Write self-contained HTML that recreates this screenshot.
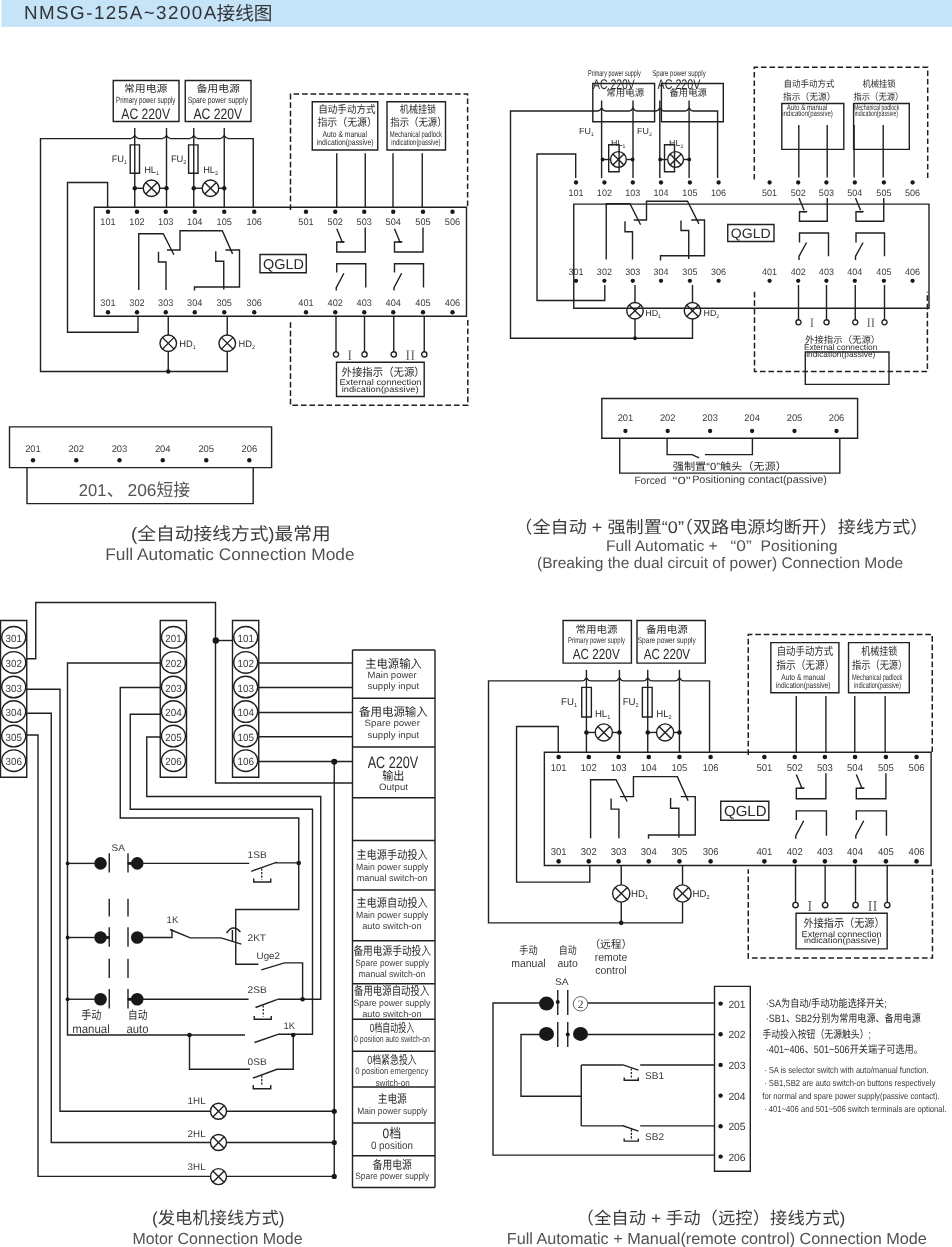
<!DOCTYPE html>
<html lang="zh"><head><meta charset="utf-8"><title>NMSG-125A~3200A接线图</title>
<style>html,body{margin:0;padding:0;background:#fff}body{width:952px;height:1247px;overflow:hidden;font-family:"Liberation Sans",sans-serif}svg{display:block;will-change:transform}text{font-family:"Liberation Sans",sans-serif;fill:#2b2a29;text-rendering:geometricPrecision}.ln{fill:none;stroke:#231f20;stroke-width:1.4;stroke-linecap:butt;stroke-linejoin:miter}.ds{fill:none;stroke:#231f20;stroke-width:1.5;stroke-dasharray:5.7 2.8}.dt{fill:none;stroke:#231f20;stroke-width:1.25;stroke-dasharray:2.1 1.4}.fl{fill:#1a1718}.cj text{font-family:"Liberation Sans","Noto Sans CJK SC",sans-serif;fill:#2b2a29}</style></head><body>
<svg width="952" height="1247" viewBox="0 0 952 1247">
<rect x="1.3" y="0" width="950.7" height="26.8" fill="#c5e4f8"/>
<g class="ln">
<path d="M113.25 80.5H179V121.5H113.25Z"/>
<path d="M185.25 80.5H251V121.5H185.25Z"/>
<path d="M134.75 128 L134.75 207.25"/>
<path d="M166.5 128 L166.5 207.25"/>
<path d="M193.75 128 L193.75 207.25"/>
<path d="M224.25 128 L224.25 207.25"/>
<path d="M253.25 207.25V138.6H228.45Q226.14 138.6 224.25 135.6Q222.36 138.6 220.05 138.6H197.95Q195.64 138.6 193.75 135.6Q191.86 138.6 189.55 138.6H170.7Q168.39 138.6 166.5 135.6Q164.61 138.6 162.3 138.6H138.95Q136.64 138.6 134.75 135.6Q132.86 138.6 130.55 138.6H40.5V371.5H227.25V351.5"/>
<path d="M130.2 144.9H139.5V173.3H130.2Z"/>
<path d="M188.6 144.9H198V173.3H188.6Z"/>
<path d="M143.25 188.25a8.25 8.25 0 1 0 16.5 0a8.25 8.25 0 1 0 -16.5 0"/>
<path d="M145.67 182.42 L157.33 194.08"/>
<path d="M145.67 194.08 L157.33 182.42"/>
<path d="M134.75 188.25 L143.25 188.25"/>
<path d="M159.75 188.25 L166.5 188.25"/>
<path d="M202.25 188.25a8.25 8.25 0 1 0 16.5 0a8.25 8.25 0 1 0 -16.5 0"/>
<path d="M204.67 182.42 L216.33 194.08"/>
<path d="M204.67 194.08 L216.33 182.42"/>
<path d="M193.75 188.25 L202.25 188.25"/>
<path d="M218.75 188.25 L224.25 188.25"/>
<path d="M107.6 207.25 L107.6 182.5 L67.5 182.5 L67.5 332.3 L138 332.3 L138 316.25"/>
<path d="M94.25 207.25H466.5V316.25H94.25Z"/>
<path d="M260 254.5H306.25V272.75H260Z"/>
<path d="M138.75 290 L138.75 233.75 L163.25 233.75 L173.9 254.7"/>
<path d="M167 250 L180 250 L180 230.75 L222.25 230.75 L232.6 253.9"/>
<path d="M158.5 251.75 L158.5 262 L166 262 L166 290"/>
<path d="M225.5 250 L239.5 250 L239.5 287 L194.5 287 L194.5 290.6"/>
<path d="M215.75 251.25 L215.75 261.25 L223.75 261.25 L223.75 289.6"/>
<path d="M336.75 228.75 L341.8 240.9"/>
<path d="M340 241.8 L344.6 241.8"/>
<path d="M344 242 L336.75 242 L336.75 252 L365.25 252 L365.25 227.5"/>
<path d="M394.5 228.75 L399.55 240.9"/>
<path d="M397.75 241.8 L402.35 241.8"/>
<path d="M401.75 242 L394.5 242 L394.5 252 L423 252 L423 227.5"/>
<path d="M336.75 272.6 L336.75 263.75 L365.75 263.75 L365.75 287.6"/>
<path d="M343.9 273.25 L336.25 287.6 L336.25 290.6"/>
<path d="M394.5 272.6 L394.5 263.75 L423.5 263.75 L423.5 287.6"/>
<path d="M401.65 273.25 L394 287.6 L394 290.6"/>
<path d="M168.25 316.25 L168.25 335"/>
<path d="M159.95 343.25a8.3 8.3 0 1 0 16.6 0a8.3 8.3 0 1 0 -16.6 0"/>
<path d="M162.38 337.38 L174.12 349.12"/>
<path d="M162.38 349.12 L174.12 337.38"/>
<path d="M227.25 316.25 L227.25 335"/>
<path d="M218.95 343.25a8.3 8.3 0 1 0 16.6 0a8.3 8.3 0 1 0 -16.6 0"/>
<path d="M221.38 337.38 L233.12 349.12"/>
<path d="M221.38 349.12 L233.12 337.38"/>
<path d="M168.25 351.5 L168.25 371.5"/>
<path d="M312.25 101.75H377.75V150H312.25Z"/>
<path d="M387 101.75H445.5V150H387Z"/>
<path d="M336.75 153.25 L336.75 207.25"/>
<path d="M365.25 153.25 L365.25 207.25"/>
<path d="M393 153.25 L393 207.25"/>
<path d="M422.25 153.25 L422.25 207.25"/>
<path d="M336 316.25 L336 351.8"/>
<path d="M333.4 354.4a2.6 2.6 0 1 0 5.2 0a2.6 2.6 0 1 0 -5.2 0"/>
<path d="M364.5 316.25 L364.5 351.8"/>
<path d="M361.9 354.4a2.6 2.6 0 1 0 5.2 0a2.6 2.6 0 1 0 -5.2 0"/>
<path d="M393.75 316.25 L393.75 351.8"/>
<path d="M391.15 354.4a2.6 2.6 0 1 0 5.2 0a2.6 2.6 0 1 0 -5.2 0"/>
<path d="M424.25 316.25 L424.25 351.8"/>
<path d="M421.65 354.4a2.6 2.6 0 1 0 5.2 0a2.6 2.6 0 1 0 -5.2 0"/>
<path d="M336.5 362.2H424.2V396.5H336.5Z"/>
<path d="M9.5 426.9H271.6V467.6H9.5Z"/>
<path d="M27 467.6 L27 503.6 L253.2 503.6 L253.2 467.6"/>
<path d="M563.09 620.51H631.41V663.11H563.09Z"/>
<path d="M637 620.51H705.31V663.11H637Z"/>
<path d="M586.43 669.86 L586.43 752.2"/>
<path d="M619.42 669.86 L619.42 752.2"/>
<path d="M647.73 669.86 L647.73 752.2"/>
<path d="M679.42 669.86 L679.42 752.2"/>
<path d="M709.55 752.2V680.87H683.78Q681.38 680.87 679.42 677.76Q677.46 680.87 675.06 680.87H652.09Q649.69 680.87 647.73 677.76Q645.77 680.87 643.37 680.87H623.78Q621.38 680.87 619.42 677.76Q617.45 680.87 615.05 680.87H590.79Q588.39 680.87 586.43 677.76Q584.47 680.87 582.07 680.87H488.5V922.86H682.54V902.08"/>
<path d="M581.7 687.42H591.36V716.93H581.7Z"/>
<path d="M642.38 687.42H652.15V716.93H642.38Z"/>
<path d="M595.26 732.46a8.57 8.57 0 1 0 17.14 0a8.57 8.57 0 1 0 -17.14 0"/>
<path d="M597.77 726.4 L609.89 738.52"/>
<path d="M597.77 738.52 L609.89 726.4"/>
<path d="M586.43 732.46 L595.26 732.46"/>
<path d="M612.4 732.46 L619.42 732.46"/>
<path d="M656.56 732.46a8.57 8.57 0 1 0 17.14 0a8.57 8.57 0 1 0 -17.14 0"/>
<path d="M659.07 726.4 L671.19 738.52"/>
<path d="M659.07 738.52 L671.19 726.4"/>
<path d="M647.73 732.46 L656.56 732.46"/>
<path d="M673.71 732.46 L679.42 732.46"/>
<path d="M558.22 752.2 L558.22 726.48 L516.56 726.48 L516.56 882.13 L589.81 882.13 L589.81 865.45"/>
<path d="M544.35 752.2H931.12V865.45H544.35Z"/>
<path d="M720.76 801.29H768.82V820.25H720.76Z"/>
<path d="M590.59 838.18 L590.59 779.73 L616.04 779.73 L627.11 801.5"/>
<path d="M619.94 796.62 L633.44 796.62 L633.44 776.62 L677.34 776.62 L688.1 800.67"/>
<path d="M611.11 798.44 L611.11 809.09 L618.9 809.09 L618.9 838.18"/>
<path d="M680.72 796.62 L695.26 796.62 L695.26 835.06 L648.51 835.06 L648.51 838.8"/>
<path d="M670.59 797.92 L670.59 808.31 L678.9 808.31 L678.9 837.76"/>
<path d="M796.31 774.54 L801.55 787.16"/>
<path d="M799.68 788.1 L804.46 788.1"/>
<path d="M803.84 788.31 L796.31 788.31 L796.31 798.7 L825.92 798.7 L825.92 773.24"/>
<path d="M856.31 774.54 L861.56 787.16"/>
<path d="M859.69 788.1 L864.47 788.1"/>
<path d="M863.84 788.31 L856.31 788.31 L856.31 798.7 L885.92 798.7 L885.92 773.24"/>
<path d="M796.31 820.1 L796.31 810.9 L826.44 810.9 L826.44 835.68"/>
<path d="M803.74 820.77 L795.79 835.68 L795.79 838.8"/>
<path d="M856.31 820.1 L856.31 810.9 L886.44 810.9 L886.44 835.68"/>
<path d="M863.74 820.77 L855.79 835.68 L855.79 838.8"/>
<path d="M621.24 865.45 L621.24 884.93"/>
<path d="M612.61 893.5a8.62 8.62 0 1 0 17.25 0a8.62 8.62 0 1 0 -17.25 0"/>
<path d="M615.14 887.41 L627.33 899.6"/>
<path d="M615.14 899.6 L627.33 887.41"/>
<path d="M682.54 865.45 L682.54 884.93"/>
<path d="M673.91 893.5a8.62 8.62 0 1 0 17.25 0a8.62 8.62 0 1 0 -17.25 0"/>
<path d="M676.44 887.41 L688.63 899.6"/>
<path d="M676.44 899.6 L688.63 887.41"/>
<path d="M621.24 902.08 L621.24 922.86"/>
<path d="M770.85 642.59H838.91V692.72H770.85Z"/>
<path d="M848.52 642.59H909.3V692.72H848.52Z"/>
<path d="M796.31 696.09 L796.31 752.2"/>
<path d="M825.92 696.09 L825.92 752.2"/>
<path d="M854.75 696.09 L854.75 752.2"/>
<path d="M885.14 696.09 L885.14 752.2"/>
<path d="M795.53 865.45 L795.53 902.39"/>
<path d="M792.83 905.09a2.7 2.7 0 1 0 5.4 0a2.7 2.7 0 1 0 -5.4 0"/>
<path d="M825.14 865.45 L825.14 902.39"/>
<path d="M822.44 905.09a2.7 2.7 0 1 0 5.4 0a2.7 2.7 0 1 0 -5.4 0"/>
<path d="M855.53 865.45 L855.53 902.39"/>
<path d="M852.83 905.09a2.7 2.7 0 1 0 5.4 0a2.7 2.7 0 1 0 -5.4 0"/>
<path d="M887.22 865.45 L887.22 902.39"/>
<path d="M884.52 905.09a2.7 2.7 0 1 0 5.4 0a2.7 2.7 0 1 0 -5.4 0"/>
<path d="M796.05 913.19H887.17V948.83H796.05Z"/>
<path d="M539.5 1003 L493 1003 L493 1155.1 L714.5 1155.1"/>
<path d="M557.75 990 L557.75 1015"/>
<path d="M567.75 990 L567.75 1015"/>
<path d="M588 1003 L714.5 1003"/>
<path d="M539.5 1034.5 L521 1034.5 L521 1096.25 L581.25 1096.25"/>
<path d="M557.75 1022 L557.75 1047"/>
<path d="M567.75 1022 L567.75 1047"/>
<path d="M587.5 1034.5 L714.5 1034.5"/>
<path d="M581.25 1065 L581.25 1125.9"/>
<path d="M581.25 1065 L622.4 1065"/>
<path d="M622.2 1064.6 L638.4 1070.2"/>
<path d="M640.2 1065 L714.5 1065"/>
<path d="M624.2 1077.6 L624.2 1080.2 L638.3 1080.2 L638.3 1077.6"/>
<path d="M581.25 1125.9 L622.4 1125.9"/>
<path d="M622.2 1125.5 L638.4 1131.1"/>
<path d="M640.2 1125.9 L714.5 1125.9"/>
<path d="M624.2 1138.5 L624.2 1141.1 L638.3 1141.1 L638.3 1138.5"/>
<path d="M714.5 986.4H750.3V1171.3H714.5Z"/>
<path d="M0.5 620.5H26.75V777.3H0.5Z"/>
<path d="M1.72 637.3a12 10.8 0 1 0 24 0a12 10.8 0 1 0 -24 0"/>
<path d="M1.72 662.4a12 10.8 0 1 0 24 0a12 10.8 0 1 0 -24 0"/>
<path d="M1.72 687a12 10.8 0 1 0 24 0a12 10.8 0 1 0 -24 0"/>
<path d="M1.72 711.6a12 10.8 0 1 0 24 0a12 10.8 0 1 0 -24 0"/>
<path d="M1.72 736.1a12 10.8 0 1 0 24 0a12 10.8 0 1 0 -24 0"/>
<path d="M1.72 760.7a12 10.8 0 1 0 24 0a12 10.8 0 1 0 -24 0"/>
<path d="M160.25 620.5H186.5V777.3H160.25Z"/>
<path d="M161.47 637.3a12 10.8 0 1 0 24 0a12 10.8 0 1 0 -24 0"/>
<path d="M161.47 662.4a12 10.8 0 1 0 24 0a12 10.8 0 1 0 -24 0"/>
<path d="M161.47 687a12 10.8 0 1 0 24 0a12 10.8 0 1 0 -24 0"/>
<path d="M161.47 711.6a12 10.8 0 1 0 24 0a12 10.8 0 1 0 -24 0"/>
<path d="M161.47 736.1a12 10.8 0 1 0 24 0a12 10.8 0 1 0 -24 0"/>
<path d="M161.47 760.7a12 10.8 0 1 0 24 0a12 10.8 0 1 0 -24 0"/>
<path d="M232.5 620.5H258.75V777.3H232.5Z"/>
<path d="M233.72 637.3a12 10.8 0 1 0 24 0a12 10.8 0 1 0 -24 0"/>
<path d="M233.72 662.4a12 10.8 0 1 0 24 0a12 10.8 0 1 0 -24 0"/>
<path d="M233.72 687a12 10.8 0 1 0 24 0a12 10.8 0 1 0 -24 0"/>
<path d="M233.72 711.6a12 10.8 0 1 0 24 0a12 10.8 0 1 0 -24 0"/>
<path d="M233.72 736.1a12 10.8 0 1 0 24 0a12 10.8 0 1 0 -24 0"/>
<path d="M233.72 760.7a12 10.8 0 1 0 24 0a12 10.8 0 1 0 -24 0"/>
<path d="M26.75 658.75 L35.75 658.75 L35.75 602.5 L215.5 602.5 L215.5 783 L352.5 783"/>
<path d="M215.5 640.5 L232.5 640.5"/>
<path d="M26.75 689.25 L60 689.25 L60 1111.25 L210.5 1111.25"/>
<path d="M26.75 713.25 L51.25 713.25 L51.25 1142.5 L210.5 1142.5"/>
<path d="M26.75 735 L38 735 L38 1176.4 L210.5 1176.4"/>
<path d="M160.25 663 L67.5 663 L67.5 1035 L245 1035"/>
<path d="M160.25 687.5 L120.25 687.5 L120.25 818 L298.75 818 L298.75 909.5 L235.75 909.5 L235.75 964.25 L258.4 964.25"/>
<path d="M160.25 714.25 L130.25 714.25 L130.25 809.25 L312.5 809.25 L312.5 1034.25 L278 1034.25"/>
<path d="M160.25 737 L146.75 737 L146.75 796.5 L320.75 796.5 L320.75 999.25 L277.5 999.25"/>
<path d="M258.75 663 L352.5 663"/>
<path d="M258.75 687.5 L352.5 687.5"/>
<path d="M258.75 712.5 L352.5 712.5"/>
<path d="M258.75 736.75 L352.5 736.75"/>
<path d="M258.75 761.5 L352.5 761.5"/>
<path d="M334.25 761.5 L334.25 1176.4"/>
<path d="M352.5 650 L352.5 1187.5"/>
<path d="M435 650 L435 1187.5"/>
<path d="M352.5 650 L435 650"/>
<path d="M352.5 698.25 L435 698.25"/>
<path d="M352.5 747 L435 747"/>
<path d="M352.5 797.75 L435 797.75"/>
<path d="M352.5 840.5 L435 840.5"/>
<path d="M352.5 890 L435 890"/>
<path d="M352.5 940.75 L435 940.75"/>
<path d="M352.5 983.75 L435 983.75"/>
<path d="M352.5 1019.25 L435 1019.25"/>
<path d="M352.5 1051.25 L435 1051.25"/>
<path d="M352.5 1087 L435 1087"/>
<path d="M352.5 1123 L435 1123"/>
<path d="M352.5 1155.75 L435 1155.75"/>
<path d="M352.5 1187.5 L435 1187.5"/>
<path d="M67.5 863.4 L94.5 863.4"/>
<path d="M109.25 853.2 L109.25 872.6"/>
<path d="M128 853.2 L128 872.6"/>
<path d="M67.5 937.5 L94.5 937.5"/>
<path d="M109.25 927.3 L109.25 946.7"/>
<path d="M128 927.3 L128 946.7"/>
<path d="M67.5 999.25 L94.5 999.25"/>
<path d="M109.25 989.05 L109.25 1008.45"/>
<path d="M128 989.05 L128 1008.45"/>
<path d="M109.25 898.75 L109.25 916.4"/>
<path d="M109.25 958.75 L109.25 978"/>
<path d="M128 898.75 L128 916.4"/>
<path d="M128 958.75 L128 978"/>
<path d="M143 863.4 L249.25 863.4"/>
<path d="M251.25 871.3 L276.3 862.4 L276.3 862.9 L298.75 862.9"/>
<path d="M253.75 878.6 L253.75 882 L270.75 882 L270.75 878.6"/>
<path d="M143 937.5 L172 937.5 L172 929.3"/>
<path d="M170 929.5 L190.3 937.9 L221 937.9 L241.4 944.2"/>
<path d="M232.4 930 L232.4 941.2"/>
<path d="M226.6 933.2 Q229.5 928 233.6 928 Q237.6 928 240.4 932.2"/>
<path d="M261.3 969.8 L284.5 962.9 L302.6 962.9 L302.6 999.25"/>
<path d="M143 999.25 L248.6 999.25"/>
<path d="M255.5 1007.5 L277.5 999.3"/>
<path d="M254.25 1016 L254.25 1019.25 L271.25 1019.25 L271.25 1016"/>
<path d="M254.5 1042.5 L278 1034.3"/>
<path d="M189.5 1035 L189.5 1069.25 L250 1069.25"/>
<path d="M253 1078 L277 1069.25 L293.25 1069.25 L293.25 1035"/>
<path d="M253.25 1085 L253.25 1088.75 L270.75 1088.75 L270.75 1085"/>
<path d="M210.5 1111.25a8 8 0 1 0 16 0a8 8 0 1 0 -16 0"/>
<path d="M212.84 1105.59 L224.16 1116.91"/>
<path d="M212.84 1116.91 L224.16 1105.59"/>
<path d="M226.5 1111.25 L334.25 1111.25"/>
<path d="M210.5 1142.5a8 8 0 1 0 16 0a8 8 0 1 0 -16 0"/>
<path d="M212.84 1136.84 L224.16 1148.16"/>
<path d="M212.84 1148.16 L224.16 1136.84"/>
<path d="M226.5 1142.5 L334.25 1142.5"/>
<path d="M210.5 1176.6a8 8 0 1 0 16 0a8 8 0 1 0 -16 0"/>
<path d="M212.84 1170.94 L224.16 1182.26"/>
<path d="M212.84 1182.26 L224.16 1170.94"/>
<path d="M226.5 1176.4 L334.25 1176.4"/>
<path d="M592.8 83.5H654.6V121.7H592.8Z"/>
<path d="M661.4 83.5H723.3V121.7H661.4Z"/>
<path d="M601.6 100.5 L601.6 178"/>
<path d="M633 100.5 L633 178"/>
<path d="M659.8 100.5 L659.8 178"/>
<path d="M689.1 100.5 L689.1 178"/>
<path d="M717.6 178V111H693.1Q690.9 111 689.1 108.1Q687.3 111 685.1 111H663.8Q661.6 111 659.8 108.1Q658 111 655.8 111H637Q634.8 111 633 108.1Q631.2 111 629 111H605.6Q603.4 111 601.6 108.1Q599.8 111 597.6 111H510.5V338.25H692.5V319"/>
<path d="M608.7 144.8H619.1V171.8H608.7Z"/>
<path d="M664.5 144.8H674.5V171.8H664.5Z"/>
<path d="M610.5 159.5a7.9 7.9 0 1 0 15.8 0a7.9 7.9 0 1 0 -15.8 0"/>
<path d="M612.81 153.91 L623.99 165.09"/>
<path d="M612.81 165.09 L623.99 153.91"/>
<path d="M602.2 159.5 L610.5 159.5"/>
<path d="M626.3 159.5 L632.6 159.5"/>
<path d="M667.7 159.5a7.9 7.9 0 1 0 15.8 0a7.9 7.9 0 1 0 -15.8 0"/>
<path d="M670.01 153.91 L681.19 165.09"/>
<path d="M670.01 165.09 L681.19 153.91"/>
<path d="M659.8 159.5 L667.7 159.5"/>
<path d="M683.5 159.5 L689.2 159.5"/>
<path d="M575.7 178 L575.7 154 L537 154 L537 300.5 L604.8 300.5 L604.8 285"/>
<path d="M573.75 204.1H929V308.25H573.75Z"/>
<path d="M727.75 224.5H774V241.5H727.75Z"/>
<path d="M606.25 259.5 L606.25 203.75 L630 203.75 L640.6 224.7"/>
<path d="M633.75 220 L646.5 220 L646.5 201.3 L687.5 201.3 L698.9 223.9"/>
<path d="M625 221.25 L625 231.75 L632.5 231.75 L632.5 259.5"/>
<path d="M691.25 220 L704.5 220 L704.5 255.75 L660.5 255.75 L660.5 260.5"/>
<path d="M681 220.5 L681 230.5 L688.75 230.5 L688.75 259"/>
<path d="M799 198 L804.1 210.2"/>
<path d="M802.5 211.6 L807.2 211.6"/>
<path d="M806.5 211.8 L799.5 211.8 L799.5 221.25 L827.25 221.25 L827.25 198"/>
<path d="M799.5 242.6 L799.5 233 L828.5 233 L828.5 256.3"/>
<path d="M806.6 242.5 L799 256.3 L799 260"/>
<path d="M855.5 198 L860.6 210.2"/>
<path d="M859 211.6 L863.7 211.6"/>
<path d="M863 211.8 L856 211.8 L856 221.25 L883.75 221.25 L883.75 198"/>
<path d="M856 242.6 L856 233 L884.5 233 L884.5 256.3"/>
<path d="M863.1 242.5 L855.5 256.3 L855.5 260"/>
<path d="M635 285 L635 302.5"/>
<path d="M626.75 310.75a8.25 8.25 0 1 0 16.5 0a8.25 8.25 0 1 0 -16.5 0"/>
<path d="M629.17 304.92 L640.83 316.58"/>
<path d="M629.17 316.58 L640.83 304.92"/>
<path d="M692.5 285 L692.5 302.5"/>
<path d="M684.25 310.75a8.25 8.25 0 1 0 16.5 0a8.25 8.25 0 1 0 -16.5 0"/>
<path d="M686.67 304.92 L698.33 316.58"/>
<path d="M686.67 316.58 L698.33 304.92"/>
<path d="M635 319 L635 338.25"/>
<path d="M781.8 103.5H843.8V149.4H781.8Z"/>
<path d="M853.6 103.5H909.3V149.4H853.6Z"/>
<path d="M798.8 125 L798.8 177.6"/>
<path d="M827.2 125 L827.2 177.6"/>
<path d="M854.1 125 L854.1 177.6"/>
<path d="M883.2 125 L883.2 177.6"/>
<path d="M798.5 285 L798.5 319.7"/>
<path d="M795.95 322.3a2.55 2.55 0 1 0 5.1 0a2.55 2.55 0 1 0 -5.1 0"/>
<path d="M826.5 285 L826.5 319.7"/>
<path d="M823.95 322.3a2.55 2.55 0 1 0 5.1 0a2.55 2.55 0 1 0 -5.1 0"/>
<path d="M855.25 285 L855.25 319.7"/>
<path d="M852.7 322.3a2.55 2.55 0 1 0 5.1 0a2.55 2.55 0 1 0 -5.1 0"/>
<path d="M884.5 285 L884.5 319.7"/>
<path d="M881.95 322.3a2.55 2.55 0 1 0 5.1 0a2.55 2.55 0 1 0 -5.1 0"/>
<path d="M805.3 352H889V384.4H805.3Z"/>
<path d="M601.8 398.5H857.6V438.2H601.8Z"/>
<path d="M619.7 438.2 L619.7 473.1 L839.8 473.1 L839.8 438.2"/>
<path d="M667.1 438.2 L667.1 454.6 L692 454.6 L699.2 457.8"/>
<path d="M705 454.6 L752.4 454.6 L752.4 438.2"/>
</g>
<g class="ds">
<path d="M290.5 210 L290.5 94 L467.6 94 L467.6 207"/>
<path d="M467.8 320 L467.8 405.3 L290.5 405.3 L290.5 320"/>
<path d="M748.25 755.06 L748.25 634.53 L932.26 634.53 L932.26 751.94"/>
<path d="M932.47 869.35 L932.47 957.97 L748.25 957.97 L748.25 869.35"/>
<path d="M754.3 179.6 L754.3 67.2 L927.7 67.2 L927.7 179.6"/>
<path d="M754.5 291.8 L754.5 371.4 L927.4 371.4 L927.4 291.8"/>
</g>
<g class="dt">
<path d="M631.4 1068.4V1079"/>
<path d="M631.4 1129.3V1139.9"/>
<path d="M261.75 868.6V879.6"/>
<path d="M263.25 1005.4V1016.4"/>
<path d="M261.75 1075.6V1086"/>
</g>
<g class="fl"><circle cx="134.75" cy="188.25" r="2.2"/>
<circle cx="166.5" cy="188.25" r="2.2"/>
<circle cx="193.75" cy="188.25" r="2.2"/>
<circle cx="224.25" cy="188.25" r="2.2"/>
<circle cx="108" cy="211.8" r="2.2"/>
<circle cx="108" cy="312.3" r="2.2"/>
<circle cx="137" cy="211.8" r="2.2"/>
<circle cx="137" cy="312.3" r="2.2"/>
<circle cx="165.75" cy="211.8" r="2.2"/>
<circle cx="165.75" cy="312.3" r="2.2"/>
<circle cx="194.75" cy="211.8" r="2.2"/>
<circle cx="194.75" cy="312.3" r="2.2"/>
<circle cx="224.25" cy="211.8" r="2.2"/>
<circle cx="224.25" cy="312.3" r="2.2"/>
<circle cx="254.25" cy="211.8" r="2.2"/>
<circle cx="254.25" cy="312.3" r="2.2"/>
<circle cx="306" cy="211.8" r="2.2"/>
<circle cx="306" cy="312.3" r="2.2"/>
<circle cx="335.25" cy="211.8" r="2.2"/>
<circle cx="335.25" cy="312.3" r="2.2"/>
<circle cx="364.25" cy="211.8" r="2.2"/>
<circle cx="364.25" cy="312.3" r="2.2"/>
<circle cx="393.25" cy="211.8" r="2.2"/>
<circle cx="393.25" cy="312.3" r="2.2"/>
<circle cx="423" cy="211.8" r="2.2"/>
<circle cx="423" cy="312.3" r="2.2"/>
<circle cx="452.5" cy="211.8" r="2.2"/>
<circle cx="452.5" cy="312.3" r="2.2"/>
<circle cx="168.25" cy="371.5" r="2.2"/>
<circle cx="33" cy="460.2" r="2.2"/>
<circle cx="76.25" cy="460.2" r="2.2"/>
<circle cx="119.5" cy="460.2" r="2.2"/>
<circle cx="162.75" cy="460.2" r="2.2"/>
<circle cx="206.25" cy="460.2" r="2.2"/>
<circle cx="249.3" cy="460.2" r="2.2"/>
<circle cx="586.43" cy="732.46" r="2.29"/>
<circle cx="619.42" cy="732.46" r="2.29"/>
<circle cx="647.73" cy="732.46" r="2.29"/>
<circle cx="679.42" cy="732.46" r="2.29"/>
<circle cx="558.64" cy="756.93" r="2.29"/>
<circle cx="558.64" cy="861.35" r="2.29"/>
<circle cx="588.77" cy="756.93" r="2.29"/>
<circle cx="588.77" cy="861.35" r="2.29"/>
<circle cx="618.64" cy="756.93" r="2.29"/>
<circle cx="618.64" cy="861.35" r="2.29"/>
<circle cx="648.77" cy="756.93" r="2.29"/>
<circle cx="648.77" cy="861.35" r="2.29"/>
<circle cx="679.42" cy="756.93" r="2.29"/>
<circle cx="679.42" cy="861.35" r="2.29"/>
<circle cx="710.59" cy="756.93" r="2.29"/>
<circle cx="710.59" cy="861.35" r="2.29"/>
<circle cx="764.36" cy="756.93" r="2.29"/>
<circle cx="764.36" cy="861.35" r="2.29"/>
<circle cx="794.75" cy="756.93" r="2.29"/>
<circle cx="794.75" cy="861.35" r="2.29"/>
<circle cx="824.88" cy="756.93" r="2.29"/>
<circle cx="824.88" cy="861.35" r="2.29"/>
<circle cx="855.01" cy="756.93" r="2.29"/>
<circle cx="855.01" cy="861.35" r="2.29"/>
<circle cx="885.92" cy="756.93" r="2.29"/>
<circle cx="885.92" cy="861.35" r="2.29"/>
<circle cx="916.57" cy="756.93" r="2.29"/>
<circle cx="916.57" cy="861.35" r="2.29"/>
<circle cx="621.24" cy="922.86" r="2.29"/>
<ellipse cx="546.5" cy="1003.6" rx="7.5" ry="7"/>
<circle cx="557.75" cy="1002" r="2"/>
<ellipse cx="546.5" cy="1033.9" rx="7.5" ry="7"/>
<circle cx="567.75" cy="1034.5" r="2"/>
<ellipse cx="580.5" cy="1033.9" rx="7.5" ry="7"/>
<circle cx="720.6" cy="1003.6" r="2.2"/>
<circle cx="720.6" cy="1034.3" r="2.2"/>
<circle cx="720.6" cy="1064.9" r="2.2"/>
<circle cx="720.6" cy="1095.6" r="2.2"/>
<circle cx="720.6" cy="1126.2" r="2.2"/>
<circle cx="720.6" cy="1156.6" r="2.2"/>
<circle cx="215.8" cy="640.5" r="3.2"/>
<circle cx="334.25" cy="761.7" r="3"/>
<circle cx="67.6" cy="863.4" r="1.9"/>
<circle cx="100.5" cy="863.4" r="6.3"/>
<circle cx="137.25" cy="863.4" r="6.3"/>
<circle cx="67.6" cy="937.5" r="1.9"/>
<circle cx="100.5" cy="937.5" r="6.3"/>
<circle cx="137.25" cy="937.5" r="6.3"/>
<circle cx="67.6" cy="999.25" r="1.9"/>
<circle cx="100.5" cy="999.25" r="6.3"/>
<circle cx="137.25" cy="999.25" r="6.3"/>
<circle cx="298.75" cy="863" r="2.3"/>
<circle cx="302.6" cy="999.25" r="2.3"/>
<circle cx="189.5" cy="1035" r="2.3"/>
<circle cx="293.25" cy="1035" r="2.3"/>
<circle cx="334.25" cy="1111.25" r="2.6"/>
<circle cx="334.25" cy="1142.5" r="2.6"/>
<circle cx="334.25" cy="1176.4" r="2.6"/>
<circle cx="602.6" cy="159.5" r="1.9"/>
<circle cx="632.6" cy="159.5" r="1.9"/>
<circle cx="660.2" cy="159.5" r="1.9"/>
<circle cx="689.2" cy="159.5" r="1.9"/>
<circle cx="576" cy="182.5" r="2.15"/>
<circle cx="576" cy="280.8" r="2.15"/>
<circle cx="604.4" cy="182.5" r="2.15"/>
<circle cx="604.4" cy="280.8" r="2.15"/>
<circle cx="632.8" cy="182.5" r="2.15"/>
<circle cx="632.8" cy="280.8" r="2.15"/>
<circle cx="661" cy="182.5" r="2.15"/>
<circle cx="661" cy="280.8" r="2.15"/>
<circle cx="689.9" cy="182.5" r="2.15"/>
<circle cx="689.9" cy="280.8" r="2.15"/>
<circle cx="718.6" cy="182.5" r="2.15"/>
<circle cx="718.6" cy="280.8" r="2.15"/>
<circle cx="769.6" cy="182.5" r="2.15"/>
<circle cx="769.6" cy="280.8" r="2.15"/>
<circle cx="798.2" cy="182.5" r="2.15"/>
<circle cx="798.2" cy="280.8" r="2.15"/>
<circle cx="826.4" cy="182.5" r="2.15"/>
<circle cx="826.4" cy="280.8" r="2.15"/>
<circle cx="854.8" cy="182.5" r="2.15"/>
<circle cx="854.8" cy="280.8" r="2.15"/>
<circle cx="883.9" cy="182.5" r="2.15"/>
<circle cx="883.9" cy="280.8" r="2.15"/>
<circle cx="912.6" cy="182.5" r="2.15"/>
<circle cx="912.6" cy="280.8" r="2.15"/>
<circle cx="635" cy="338.25" r="1.9"/>
<circle cx="625.4" cy="431" r="2.15"/>
<circle cx="667.7" cy="431" r="2.15"/>
<circle cx="710.1" cy="431" r="2.15"/>
<circle cx="752.1" cy="431" r="2.15"/>
<circle cx="794.5" cy="431" r="2.15"/>
<circle cx="836.5" cy="431" r="2.15"/></g>
<circle cx="580.5" cy="1003.8" r="7.2" fill="none" stroke="#3a3a3a" stroke-width="0.8"/>
<g fill="#1a1718"><rect x="127.6" y="862" width="4.5" height="2.8"/><rect x="105.5" y="936.1" width="4.2" height="2.8"/><rect x="127.6" y="997.9" width="4.5" height="2.8"/></g>
<g><text x="23.94" y="19.23" font-size="18.8" textLength="192.32" lengthAdjust="spacing" style="fill:#333335;">NMSG-125A~3200A</text>
<text x="116.03" y="102.7" font-size="9" textLength="59.34" lengthAdjust="spacingAndGlyphs">Primary power supply</text>
<text x="121.27" y="118.8" font-size="15.1" textLength="48.76" lengthAdjust="spacingAndGlyphs">AC 220V</text>
<text x="187.79" y="102.7" font-size="9" textLength="60.01" lengthAdjust="spacingAndGlyphs">Spare power supply</text>
<text x="193.47" y="118.8" font-size="15.1" textLength="48.76" lengthAdjust="spacingAndGlyphs">AC 220V</text>
<text x="111.64" y="162.13" font-size="9.3">FU<tspan font-size="5.39" dy="2.05">1</tspan></text>
<text x="170.94" y="162.13" font-size="9.3">FU<tspan font-size="5.39" dy="2.05">2</tspan></text>
<text x="144.14" y="173.43" font-size="9.3">HL<tspan font-size="5.39" dy="2.05">1</tspan></text>
<text x="203.14" y="173.43" font-size="9.3">HL<tspan font-size="5.39" dy="2.05">2</tspan></text>
<text x="100.35" y="225.3" font-size="9.5" textLength="15.3" lengthAdjust="spacingAndGlyphs" style="fill:#3a3a3a;">101</text>
<text x="100.35" y="305.8" font-size="9.5" textLength="15.3" lengthAdjust="spacingAndGlyphs" style="fill:#3a3a3a;">301</text>
<text x="129.35" y="225.3" font-size="9.5" textLength="15.3" lengthAdjust="spacingAndGlyphs" style="fill:#3a3a3a;">102</text>
<text x="129.35" y="305.8" font-size="9.5" textLength="15.3" lengthAdjust="spacingAndGlyphs" style="fill:#3a3a3a;">302</text>
<text x="158.1" y="225.3" font-size="9.5" textLength="15.3" lengthAdjust="spacingAndGlyphs" style="fill:#3a3a3a;">103</text>
<text x="158.1" y="305.8" font-size="9.5" textLength="15.3" lengthAdjust="spacingAndGlyphs" style="fill:#3a3a3a;">303</text>
<text x="187.1" y="225.3" font-size="9.5" textLength="15.3" lengthAdjust="spacingAndGlyphs" style="fill:#3a3a3a;">104</text>
<text x="187.1" y="305.8" font-size="9.5" textLength="15.3" lengthAdjust="spacingAndGlyphs" style="fill:#3a3a3a;">304</text>
<text x="216.6" y="225.3" font-size="9.5" textLength="15.3" lengthAdjust="spacingAndGlyphs" style="fill:#3a3a3a;">105</text>
<text x="216.6" y="305.8" font-size="9.5" textLength="15.3" lengthAdjust="spacingAndGlyphs" style="fill:#3a3a3a;">305</text>
<text x="246.6" y="225.3" font-size="9.5" textLength="15.3" lengthAdjust="spacingAndGlyphs" style="fill:#3a3a3a;">106</text>
<text x="246.6" y="305.8" font-size="9.5" textLength="15.3" lengthAdjust="spacingAndGlyphs" style="fill:#3a3a3a;">306</text>
<text x="298.35" y="225.3" font-size="9.5" textLength="15.3" lengthAdjust="spacingAndGlyphs" style="fill:#3a3a3a;">501</text>
<text x="298.35" y="305.8" font-size="9.5" textLength="15.3" lengthAdjust="spacingAndGlyphs" style="fill:#3a3a3a;">401</text>
<text x="327.6" y="225.3" font-size="9.5" textLength="15.3" lengthAdjust="spacingAndGlyphs" style="fill:#3a3a3a;">502</text>
<text x="327.6" y="305.8" font-size="9.5" textLength="15.3" lengthAdjust="spacingAndGlyphs" style="fill:#3a3a3a;">402</text>
<text x="356.6" y="225.3" font-size="9.5" textLength="15.3" lengthAdjust="spacingAndGlyphs" style="fill:#3a3a3a;">503</text>
<text x="356.6" y="305.8" font-size="9.5" textLength="15.3" lengthAdjust="spacingAndGlyphs" style="fill:#3a3a3a;">403</text>
<text x="385.6" y="225.3" font-size="9.5" textLength="15.3" lengthAdjust="spacingAndGlyphs" style="fill:#3a3a3a;">504</text>
<text x="385.6" y="305.8" font-size="9.5" textLength="15.3" lengthAdjust="spacingAndGlyphs" style="fill:#3a3a3a;">404</text>
<text x="415.35" y="225.3" font-size="9.5" textLength="15.3" lengthAdjust="spacingAndGlyphs" style="fill:#3a3a3a;">505</text>
<text x="415.35" y="305.8" font-size="9.5" textLength="15.3" lengthAdjust="spacingAndGlyphs" style="fill:#3a3a3a;">405</text>
<text x="444.85" y="225.3" font-size="9.5" textLength="15.3" lengthAdjust="spacingAndGlyphs" style="fill:#3a3a3a;">506</text>
<text x="444.85" y="305.8" font-size="9.5" textLength="15.3" lengthAdjust="spacingAndGlyphs" style="fill:#3a3a3a;">406</text>
<text x="263.13" y="268.78" font-size="14.2" textLength="40.93" lengthAdjust="spacingAndGlyphs">QGLD</text>
<text x="179.24" y="346.93" font-size="9.3">HD<tspan font-size="5.39" dy="2.05">1</tspan></text>
<text x="238.44" y="346.93" font-size="9.3">HD<tspan font-size="5.39" dy="2.05">2</tspan></text>
<text x="322.59" y="137.4" font-size="8.3" textLength="44.41" lengthAdjust="spacingAndGlyphs">Auto &amp; manual</text>
<text x="316.79" y="144.8" font-size="8.3" textLength="56.82" lengthAdjust="spacingAndGlyphs">indication(passive)</text>
<text x="389.84" y="137.4" font-size="8.3" textLength="52.11" lengthAdjust="spacingAndGlyphs">Mechanical padlock</text>
<text x="391.34" y="144.8" font-size="8.3" textLength="49.11" lengthAdjust="spacingAndGlyphs">indication(passive)</text>
<text x="349.7" y="360.23" font-size="14.6" text-anchor="middle" style="fill:#6e6e6e;font-family:'Liberation Serif',serif;">I</text>
<text x="410.2" y="360.23" font-size="14.6" text-anchor="middle" style="fill:#6e6e6e;font-family:'Liberation Serif',serif;">II</text>
<text x="339.54" y="385.3" font-size="8.4" textLength="82.02" lengthAdjust="spacingAndGlyphs">External connection</text>
<text x="341.74" y="392.4" font-size="8.2" textLength="76.81" lengthAdjust="spacingAndGlyphs">indication(passive)</text>
<text x="25.13" y="452.04" font-size="9.6" textLength="15.73" lengthAdjust="spacingAndGlyphs" style="fill:#3a3a3a;">201</text>
<text x="68.38" y="452.04" font-size="9.6" textLength="15.73" lengthAdjust="spacingAndGlyphs" style="fill:#3a3a3a;">202</text>
<text x="111.63" y="452.04" font-size="9.6" textLength="15.73" lengthAdjust="spacingAndGlyphs" style="fill:#3a3a3a;">203</text>
<text x="154.88" y="452.04" font-size="9.6" textLength="15.73" lengthAdjust="spacingAndGlyphs" style="fill:#3a3a3a;">204</text>
<text x="198.38" y="452.04" font-size="9.6" textLength="15.73" lengthAdjust="spacingAndGlyphs" style="fill:#3a3a3a;">205</text>
<text x="241.43" y="452.04" font-size="9.6" textLength="15.73" lengthAdjust="spacingAndGlyphs" style="fill:#3a3a3a;">206</text>
<text x="78.8" y="495.76" font-size="17.2" textLength="27.69" lengthAdjust="spacingAndGlyphs" style="fill:#525254;">201</text>
<text x="127.45" y="495.76" font-size="17.2" textLength="29.09" lengthAdjust="spacingAndGlyphs" style="fill:#525254;">206</text>
<text x="105.26" y="560.2" font-size="16.9" textLength="249.37" lengthAdjust="spacingAndGlyphs" style="fill:#525254;">Full Automatic Connection Mode</text>
<text x="567.94" y="643.07" font-size="8.37" textLength="57.01" lengthAdjust="spacingAndGlyphs">Primary power supply</text>
<text x="572.8" y="658.8" font-size="14.65" textLength="46.91" lengthAdjust="spacingAndGlyphs">AC 220V</text>
<text x="637.71" y="642.77" font-size="8.37" textLength="58.09" lengthAdjust="spacingAndGlyphs">Spare power supply</text>
<text x="643.7" y="658.5" font-size="14.65" textLength="46.39" lengthAdjust="spacingAndGlyphs">AC 220V</text>
<text x="561.12" y="705.32" font-size="9.66">FU<tspan font-size="5.6" dy="2.13">1</tspan></text>
<text x="622.73" y="705.32" font-size="9.66">FU<tspan font-size="5.6" dy="2.13">2</tspan></text>
<text x="594.89" y="717.06" font-size="9.66">HL<tspan font-size="5.6" dy="2.13">1</tspan></text>
<text x="656.19" y="717.06" font-size="9.66">HL<tspan font-size="5.6" dy="2.13">2</tspan></text>
<text x="550.69" y="770.95" font-size="9.87" textLength="15.9" lengthAdjust="spacingAndGlyphs" style="fill:#3a3a3a;">101</text>
<text x="550.69" y="854.59" font-size="9.87" textLength="15.9" lengthAdjust="spacingAndGlyphs" style="fill:#3a3a3a;">301</text>
<text x="580.82" y="770.95" font-size="9.87" textLength="15.9" lengthAdjust="spacingAndGlyphs" style="fill:#3a3a3a;">102</text>
<text x="580.82" y="854.59" font-size="9.87" textLength="15.9" lengthAdjust="spacingAndGlyphs" style="fill:#3a3a3a;">302</text>
<text x="610.69" y="770.95" font-size="9.87" textLength="15.9" lengthAdjust="spacingAndGlyphs" style="fill:#3a3a3a;">103</text>
<text x="610.69" y="854.59" font-size="9.87" textLength="15.9" lengthAdjust="spacingAndGlyphs" style="fill:#3a3a3a;">303</text>
<text x="640.82" y="770.95" font-size="9.87" textLength="15.9" lengthAdjust="spacingAndGlyphs" style="fill:#3a3a3a;">104</text>
<text x="640.82" y="854.59" font-size="9.87" textLength="15.9" lengthAdjust="spacingAndGlyphs" style="fill:#3a3a3a;">304</text>
<text x="671.47" y="770.95" font-size="9.87" textLength="15.9" lengthAdjust="spacingAndGlyphs" style="fill:#3a3a3a;">105</text>
<text x="671.47" y="854.59" font-size="9.87" textLength="15.9" lengthAdjust="spacingAndGlyphs" style="fill:#3a3a3a;">305</text>
<text x="702.64" y="770.95" font-size="9.87" textLength="15.9" lengthAdjust="spacingAndGlyphs" style="fill:#3a3a3a;">106</text>
<text x="702.64" y="854.59" font-size="9.87" textLength="15.9" lengthAdjust="spacingAndGlyphs" style="fill:#3a3a3a;">306</text>
<text x="756.41" y="770.95" font-size="9.87" textLength="15.9" lengthAdjust="spacingAndGlyphs" style="fill:#3a3a3a;">501</text>
<text x="756.41" y="854.59" font-size="9.87" textLength="15.9" lengthAdjust="spacingAndGlyphs" style="fill:#3a3a3a;">401</text>
<text x="786.8" y="770.95" font-size="9.87" textLength="15.9" lengthAdjust="spacingAndGlyphs" style="fill:#3a3a3a;">502</text>
<text x="786.8" y="854.59" font-size="9.87" textLength="15.9" lengthAdjust="spacingAndGlyphs" style="fill:#3a3a3a;">402</text>
<text x="816.93" y="770.95" font-size="9.87" textLength="15.9" lengthAdjust="spacingAndGlyphs" style="fill:#3a3a3a;">503</text>
<text x="816.93" y="854.59" font-size="9.87" textLength="15.9" lengthAdjust="spacingAndGlyphs" style="fill:#3a3a3a;">403</text>
<text x="847.06" y="770.95" font-size="9.87" textLength="15.9" lengthAdjust="spacingAndGlyphs" style="fill:#3a3a3a;">504</text>
<text x="847.06" y="854.59" font-size="9.87" textLength="15.9" lengthAdjust="spacingAndGlyphs" style="fill:#3a3a3a;">404</text>
<text x="877.97" y="770.95" font-size="9.87" textLength="15.9" lengthAdjust="spacingAndGlyphs" style="fill:#3a3a3a;">505</text>
<text x="877.97" y="854.59" font-size="9.87" textLength="15.9" lengthAdjust="spacingAndGlyphs" style="fill:#3a3a3a;">405</text>
<text x="908.62" y="770.95" font-size="9.87" textLength="15.9" lengthAdjust="spacingAndGlyphs" style="fill:#3a3a3a;">506</text>
<text x="908.62" y="854.59" font-size="9.87" textLength="15.9" lengthAdjust="spacingAndGlyphs" style="fill:#3a3a3a;">406</text>
<text x="724.02" y="816.13" font-size="14.75" textLength="42.53" lengthAdjust="spacingAndGlyphs">QGLD</text>
<text x="631.06" y="897.33" font-size="9.66">HD<tspan font-size="5.6" dy="2.13">1</tspan></text>
<text x="692.57" y="897.33" font-size="9.66">HD<tspan font-size="5.6" dy="2.13">2</tspan></text>
<text x="781.3" y="680.33" font-size="8.3" textLength="43.9" lengthAdjust="spacingAndGlyphs">Auto &amp; manual</text>
<text x="775.8" y="687.51" font-size="8.3" textLength="54.69" lengthAdjust="spacingAndGlyphs">indication(passive)</text>
<text x="852.06" y="680.33" font-size="8.3" textLength="50.39" lengthAdjust="spacingAndGlyphs">Mechanical padlock</text>
<text x="854.06" y="687.51" font-size="8.3" textLength="46.78" lengthAdjust="spacingAndGlyphs">indication(passive)</text>
<text x="809.76" y="911.14" font-size="15.17" text-anchor="middle" style="fill:#6e6e6e;font-family:'Liberation Serif',serif;">I</text>
<text x="872.62" y="911.14" font-size="15.17" text-anchor="middle" style="fill:#6e6e6e;font-family:'Liberation Serif',serif;">II</text>
<text x="801.55" y="936.79" font-size="8.4" textLength="80.09" lengthAdjust="spacingAndGlyphs">External connection</text>
<text x="803.95" y="943.07" font-size="8.2" textLength="75.8" lengthAdjust="spacingAndGlyphs">indication(passive)</text>
<text x="511.27" y="966.7" font-size="11.4" textLength="34.25" lengthAdjust="spacingAndGlyphs" style="fill:#3a3a3a;">manual</text>
<text x="557.48" y="966.7" font-size="11.4" textLength="20.25" lengthAdjust="spacingAndGlyphs" style="fill:#3a3a3a;">auto</text>
<text x="594.67" y="961.3" font-size="11.4" textLength="32.56" lengthAdjust="spacingAndGlyphs" style="fill:#3a3a3a;">remote</text>
<text x="595.28" y="974.3" font-size="11.4" textLength="31.25" lengthAdjust="spacingAndGlyphs" style="fill:#3a3a3a;">control</text>
<text x="554.99" y="984.74" font-size="9.6" textLength="13.63" lengthAdjust="spacingAndGlyphs" style="fill:#3a3a3a;">SA</text>
<text x="580.6" y="1008.32" font-size="11.5" text-anchor="middle" style="fill:#333;font-family:'Liberation Serif',serif;">2</text>
<text x="645.09" y="1078.71" font-size="9.8" textLength="19.11" lengthAdjust="spacingAndGlyphs" style="fill:#3a3a3a;">SB1</text>
<text x="645.09" y="1139.71" font-size="9.8" textLength="19.11" lengthAdjust="spacingAndGlyphs" style="fill:#3a3a3a;">SB2</text>
<text x="728.38" y="1007.52" font-size="10.4" textLength="17.24" lengthAdjust="spacingAndGlyphs" style="fill:#3a3a3a;">201</text>
<text x="728.38" y="1038.22" font-size="10.4" textLength="17.24" lengthAdjust="spacingAndGlyphs" style="fill:#3a3a3a;">202</text>
<text x="728.38" y="1068.82" font-size="10.4" textLength="17.24" lengthAdjust="spacingAndGlyphs" style="fill:#3a3a3a;">203</text>
<text x="728.38" y="1099.52" font-size="10.4" textLength="17.24" lengthAdjust="spacingAndGlyphs" style="fill:#3a3a3a;">204</text>
<text x="728.38" y="1130.12" font-size="10.4" textLength="17.24" lengthAdjust="spacingAndGlyphs" style="fill:#3a3a3a;">205</text>
<text x="728.38" y="1160.52" font-size="10.4" textLength="17.24" lengthAdjust="spacingAndGlyphs" style="fill:#3a3a3a;">206</text>
<text x="764.14" y="1072.51" font-size="8.9" textLength="164.51" lengthAdjust="spacingAndGlyphs" style="fill:#3a3a3a;">· SA is selector switch with auto/manual function.</text>
<text x="764.14" y="1085.71" font-size="8.9" textLength="171.12" lengthAdjust="spacingAndGlyphs" style="fill:#3a3a3a;">· SB1,SB2 are auto switch-on buttons respectively</text>
<text x="762.34" y="1098.71" font-size="8.9" textLength="177.42" lengthAdjust="spacingAndGlyphs" style="fill:#3a3a3a;">for normal and spare power supply(passive contact).</text>
<text x="764.14" y="1111.51" font-size="8.9" textLength="182.32" lengthAdjust="spacingAndGlyphs" style="fill:#3a3a3a;">· 401~406 and 501~506 switch terminals are optional.</text>
<text x="506.73" y="1243.9" font-size="16.1" textLength="420.14" lengthAdjust="spacingAndGlyphs" style="fill:#525254;">Full Automatic + Manual(remote control) Connection Mode</text>
<text x="5.54" y="641.92" font-size="10.4" textLength="16.38" lengthAdjust="spacingAndGlyphs" style="fill:#3a3a3a;">301</text>
<text x="5.54" y="667.02" font-size="10.4" textLength="16.38" lengthAdjust="spacingAndGlyphs" style="fill:#3a3a3a;">302</text>
<text x="5.54" y="691.62" font-size="10.4" textLength="16.38" lengthAdjust="spacingAndGlyphs" style="fill:#3a3a3a;">303</text>
<text x="5.54" y="716.22" font-size="10.4" textLength="16.38" lengthAdjust="spacingAndGlyphs" style="fill:#3a3a3a;">304</text>
<text x="5.54" y="740.72" font-size="10.4" textLength="16.38" lengthAdjust="spacingAndGlyphs" style="fill:#3a3a3a;">305</text>
<text x="5.54" y="765.32" font-size="10.4" textLength="16.38" lengthAdjust="spacingAndGlyphs" style="fill:#3a3a3a;">306</text>
<text x="165.29" y="641.92" font-size="10.4" textLength="16.38" lengthAdjust="spacingAndGlyphs" style="fill:#3a3a3a;">201</text>
<text x="165.29" y="667.02" font-size="10.4" textLength="16.38" lengthAdjust="spacingAndGlyphs" style="fill:#3a3a3a;">202</text>
<text x="165.29" y="691.62" font-size="10.4" textLength="16.38" lengthAdjust="spacingAndGlyphs" style="fill:#3a3a3a;">203</text>
<text x="165.29" y="716.22" font-size="10.4" textLength="16.38" lengthAdjust="spacingAndGlyphs" style="fill:#3a3a3a;">204</text>
<text x="165.29" y="740.72" font-size="10.4" textLength="16.38" lengthAdjust="spacingAndGlyphs" style="fill:#3a3a3a;">205</text>
<text x="165.29" y="765.32" font-size="10.4" textLength="16.38" lengthAdjust="spacingAndGlyphs" style="fill:#3a3a3a;">206</text>
<text x="237.54" y="641.92" font-size="10.4" textLength="16.38" lengthAdjust="spacingAndGlyphs" style="fill:#3a3a3a;">101</text>
<text x="237.54" y="667.02" font-size="10.4" textLength="16.38" lengthAdjust="spacingAndGlyphs" style="fill:#3a3a3a;">102</text>
<text x="237.54" y="691.62" font-size="10.4" textLength="16.38" lengthAdjust="spacingAndGlyphs" style="fill:#3a3a3a;">103</text>
<text x="237.54" y="716.22" font-size="10.4" textLength="16.38" lengthAdjust="spacingAndGlyphs" style="fill:#3a3a3a;">104</text>
<text x="237.54" y="740.72" font-size="10.4" textLength="16.38" lengthAdjust="spacingAndGlyphs" style="fill:#3a3a3a;">105</text>
<text x="237.54" y="765.32" font-size="10.4" textLength="16.38" lengthAdjust="spacingAndGlyphs" style="fill:#3a3a3a;">106</text>
<text x="111.6" y="850.64" font-size="9.6" textLength="13.41" lengthAdjust="spacingAndGlyphs" style="fill:#3a3a3a;">SA</text>
<text x="166.62" y="923.34" font-size="9.6" textLength="11.75" lengthAdjust="spacingAndGlyphs" style="fill:#3a3a3a;">1K</text>
<text x="247.59" y="858.34" font-size="9.6" textLength="19.22" lengthAdjust="spacingAndGlyphs" style="fill:#3a3a3a;">1SB</text>
<text x="247.6" y="940.74" font-size="9.6" textLength="18.4" lengthAdjust="spacingAndGlyphs" style="fill:#3a3a3a;">2KT</text>
<text x="256.61" y="958.9" font-size="9.6" textLength="23.37" lengthAdjust="spacingAndGlyphs" style="fill:#3a3a3a;">Uge2</text>
<text x="247.59" y="993.34" font-size="9.6" textLength="19.22" lengthAdjust="spacingAndGlyphs" style="fill:#3a3a3a;">2SB</text>
<text x="283.43" y="1028.94" font-size="9.6" textLength="11.53" lengthAdjust="spacingAndGlyphs" style="fill:#3a3a3a;">1K</text>
<text x="247.59" y="1065.04" font-size="9.6" textLength="19.22" lengthAdjust="spacingAndGlyphs" style="fill:#3a3a3a;">0SB</text>
<text x="187.61" y="1104.04" font-size="9.6" textLength="17.98" lengthAdjust="spacingAndGlyphs" style="fill:#3a3a3a;">1HL</text>
<text x="187.61" y="1136.74" font-size="9.6" textLength="17.98" lengthAdjust="spacingAndGlyphs" style="fill:#3a3a3a;">2HL</text>
<text x="187.61" y="1169.74" font-size="9.6" textLength="17.98" lengthAdjust="spacingAndGlyphs" style="fill:#3a3a3a;">3HL</text>
<text x="72.21" y="1032.8" font-size="12" textLength="37.47" lengthAdjust="spacingAndGlyphs" style="fill:#3a3a3a;">manual</text>
<text x="126.42" y="1032.8" font-size="12" textLength="22.06" lengthAdjust="spacingAndGlyphs" style="fill:#3a3a3a;">auto</text>
<text x="367.63" y="678.39" font-size="9.2" textLength="49.14" lengthAdjust="spacingAndGlyphs" style="fill:#3a3a3a;">Main power</text>
<text x="367.62" y="688.89" font-size="9.2" textLength="51.56" lengthAdjust="spacingAndGlyphs" style="fill:#3a3a3a;">supply input</text>
<text x="364.61" y="726.39" font-size="9.2" textLength="55.37" lengthAdjust="spacingAndGlyphs" style="fill:#3a3a3a;">Spare power</text>
<text x="367.62" y="737.59" font-size="9.2" textLength="51.56" lengthAdjust="spacingAndGlyphs" style="fill:#3a3a3a;">supply input</text>
<text x="367.64" y="767.7" font-size="16.6" textLength="50.51" lengthAdjust="spacingAndGlyphs">AC 220V</text>
<text x="378.92" y="790.29" font-size="9.2" textLength="29.06" lengthAdjust="spacingAndGlyphs" style="fill:#3a3a3a;">Output</text>
<text x="355.98" y="869.99" font-size="9.2" textLength="72.34" lengthAdjust="spacingAndGlyphs" style="fill:#3a3a3a;">Main power supply</text>
<text x="356.65" y="881.19" font-size="9.2" textLength="70.69" lengthAdjust="spacingAndGlyphs" style="fill:#3a3a3a;">manual switch-on</text>
<text x="355.98" y="918.19" font-size="9.2" textLength="72.34" lengthAdjust="spacingAndGlyphs" style="fill:#3a3a3a;">Main power supply</text>
<text x="362.25" y="929.39" font-size="9.2" textLength="59.3" lengthAdjust="spacingAndGlyphs" style="fill:#3a3a3a;">auto switch-on</text>
<text x="355.3" y="965.79" font-size="9.2" textLength="73.8" lengthAdjust="spacingAndGlyphs" style="fill:#3a3a3a;">Spare power supply</text>
<text x="358.48" y="977.39" font-size="9.2" textLength="66.83" lengthAdjust="spacingAndGlyphs" style="fill:#3a3a3a;">manual switch-on</text>
<text x="353.48" y="1006.19" font-size="9.2" textLength="76.84" lengthAdjust="spacingAndGlyphs" style="fill:#3a3a3a;">Spare power supply</text>
<text x="362.25" y="1017.39" font-size="9.2" textLength="59.3" lengthAdjust="spacingAndGlyphs" style="fill:#3a3a3a;">auto switch-on</text>
<text x="354.09" y="1042.19" font-size="9.2" textLength="75.73" lengthAdjust="spacingAndGlyphs" style="fill:#3a3a3a;">0 position auto switch-on</text>
<text x="355.34" y="1074.19" font-size="9.2" textLength="72.92" lengthAdjust="spacingAndGlyphs" style="fill:#3a3a3a;">0 position emergency</text>
<text x="375.51" y="1085.69" font-size="9.2" textLength="34.38" lengthAdjust="spacingAndGlyphs" style="fill:#3a3a3a;">switch-on</text>
<text x="357.3" y="1114.19" font-size="9.2" textLength="70.01" lengthAdjust="spacingAndGlyphs" style="fill:#3a3a3a;">Main power supply</text>
<text x="370.91" y="1148.96" font-size="10.6" textLength="42.08" lengthAdjust="spacingAndGlyphs" style="fill:#3a3a3a;">0 position</text>
<text x="355.3" y="1179.49" font-size="9.2" textLength="73.8" lengthAdjust="spacingAndGlyphs" style="fill:#3a3a3a;">Spare power supply</text>
<text x="132.44" y="1243.9" font-size="16.1" textLength="170.11" lengthAdjust="spacingAndGlyphs" style="fill:#525254;">Motor Connection Mode</text>
<text x="588.07" y="75.94" font-size="8.6" textLength="52.66" lengthAdjust="spacingAndGlyphs">Primary power supply</text>
<text x="652.24" y="75.94" font-size="8.6" textLength="53.43" lengthAdjust="spacingAndGlyphs">Spare power supply</text>
<text x="592.97" y="89.3" font-size="14" textLength="41.85" lengthAdjust="spacingAndGlyphs">AC 220V</text>
<text x="657.56" y="89.3" font-size="14" textLength="42.89" lengthAdjust="spacingAndGlyphs">AC 220V</text>
<text x="579.07" y="134.39" font-size="8.9">FU<tspan font-size="5.16" dy="1.96">1</tspan></text>
<text x="637.07" y="134.39" font-size="8.9">FU<tspan font-size="5.16" dy="1.96">2</tspan></text>
<text x="611.07" y="145.59" font-size="8.9">HL<tspan font-size="5.16" dy="1.96">1</tspan></text>
<text x="669.07" y="145.59" font-size="8.9">HL<tspan font-size="5.16" dy="1.96">2</tspan></text>
<text x="568.46" y="195.57" font-size="9.4" textLength="15.08" lengthAdjust="spacingAndGlyphs" style="fill:#3a3a3a;">101</text>
<text x="568.46" y="274.87" font-size="9.4" textLength="15.08" lengthAdjust="spacingAndGlyphs" style="fill:#3a3a3a;">301</text>
<text x="596.86" y="195.57" font-size="9.4" textLength="15.08" lengthAdjust="spacingAndGlyphs" style="fill:#3a3a3a;">102</text>
<text x="596.86" y="274.87" font-size="9.4" textLength="15.08" lengthAdjust="spacingAndGlyphs" style="fill:#3a3a3a;">302</text>
<text x="625.26" y="195.57" font-size="9.4" textLength="15.08" lengthAdjust="spacingAndGlyphs" style="fill:#3a3a3a;">103</text>
<text x="625.26" y="274.87" font-size="9.4" textLength="15.08" lengthAdjust="spacingAndGlyphs" style="fill:#3a3a3a;">303</text>
<text x="653.46" y="195.57" font-size="9.4" textLength="15.08" lengthAdjust="spacingAndGlyphs" style="fill:#3a3a3a;">104</text>
<text x="653.46" y="274.87" font-size="9.4" textLength="15.08" lengthAdjust="spacingAndGlyphs" style="fill:#3a3a3a;">304</text>
<text x="682.36" y="195.57" font-size="9.4" textLength="15.08" lengthAdjust="spacingAndGlyphs" style="fill:#3a3a3a;">105</text>
<text x="682.36" y="274.87" font-size="9.4" textLength="15.08" lengthAdjust="spacingAndGlyphs" style="fill:#3a3a3a;">305</text>
<text x="711.06" y="195.57" font-size="9.4" textLength="15.08" lengthAdjust="spacingAndGlyphs" style="fill:#3a3a3a;">106</text>
<text x="711.06" y="274.87" font-size="9.4" textLength="15.08" lengthAdjust="spacingAndGlyphs" style="fill:#3a3a3a;">306</text>
<text x="762.06" y="195.57" font-size="9.4" textLength="15.08" lengthAdjust="spacingAndGlyphs" style="fill:#3a3a3a;">501</text>
<text x="762.06" y="274.87" font-size="9.4" textLength="15.08" lengthAdjust="spacingAndGlyphs" style="fill:#3a3a3a;">401</text>
<text x="790.66" y="195.57" font-size="9.4" textLength="15.08" lengthAdjust="spacingAndGlyphs" style="fill:#3a3a3a;">502</text>
<text x="790.66" y="274.87" font-size="9.4" textLength="15.08" lengthAdjust="spacingAndGlyphs" style="fill:#3a3a3a;">402</text>
<text x="818.86" y="195.57" font-size="9.4" textLength="15.08" lengthAdjust="spacingAndGlyphs" style="fill:#3a3a3a;">503</text>
<text x="818.86" y="274.87" font-size="9.4" textLength="15.08" lengthAdjust="spacingAndGlyphs" style="fill:#3a3a3a;">403</text>
<text x="847.26" y="195.57" font-size="9.4" textLength="15.08" lengthAdjust="spacingAndGlyphs" style="fill:#3a3a3a;">504</text>
<text x="847.26" y="274.87" font-size="9.4" textLength="15.08" lengthAdjust="spacingAndGlyphs" style="fill:#3a3a3a;">404</text>
<text x="876.36" y="195.57" font-size="9.4" textLength="15.08" lengthAdjust="spacingAndGlyphs" style="fill:#3a3a3a;">505</text>
<text x="876.36" y="274.87" font-size="9.4" textLength="15.08" lengthAdjust="spacingAndGlyphs" style="fill:#3a3a3a;">405</text>
<text x="905.06" y="195.57" font-size="9.4" textLength="15.08" lengthAdjust="spacingAndGlyphs" style="fill:#3a3a3a;">506</text>
<text x="905.06" y="274.87" font-size="9.4" textLength="15.08" lengthAdjust="spacingAndGlyphs" style="fill:#3a3a3a;">406</text>
<text x="730.76" y="237.97" font-size="13.6" textLength="39.89" lengthAdjust="spacingAndGlyphs">QGLD</text>
<text x="645.27" y="315.59" font-size="8.9">HD<tspan font-size="5.16" dy="1.96">1</tspan></text>
<text x="703.47" y="315.59" font-size="8.9">HD<tspan font-size="5.16" dy="1.96">2</tspan></text>
<text x="786.83" y="110.01" font-size="8.1" textLength="40.34" lengthAdjust="spacingAndGlyphs">Auto &amp; manual</text>
<text x="782.33" y="115.71" font-size="8.1" textLength="50.53" lengthAdjust="spacingAndGlyphs">indication(passive)</text>
<text x="853.89" y="110.01" font-size="8.1" textLength="45.42" lengthAdjust="spacingAndGlyphs">Mechanical padlock</text>
<text x="854.69" y="115.71" font-size="8.1" textLength="43.43" lengthAdjust="spacingAndGlyphs">indication(passive)</text>
<text x="811.8" y="327.25" font-size="13" text-anchor="middle" style="fill:#6e6e6e;font-family:'Liberation Serif',serif;">I</text>
<text x="870.8" y="327.25" font-size="13" text-anchor="middle" style="fill:#6e6e6e;font-family:'Liberation Serif',serif;">II</text>
<text x="803.9" y="350.16" font-size="8.3" textLength="73.4" lengthAdjust="spacingAndGlyphs">External connection</text>
<text x="806.2" y="356.56" font-size="8.3" textLength="69.2" lengthAdjust="spacingAndGlyphs">indication(passive)</text>
<text x="617.64" y="420.6" font-size="9.5" textLength="15.52" lengthAdjust="spacingAndGlyphs" style="fill:#3a3a3a;">201</text>
<text x="659.94" y="420.6" font-size="9.5" textLength="15.52" lengthAdjust="spacingAndGlyphs" style="fill:#3a3a3a;">202</text>
<text x="702.34" y="420.6" font-size="9.5" textLength="15.52" lengthAdjust="spacingAndGlyphs" style="fill:#3a3a3a;">203</text>
<text x="744.34" y="420.6" font-size="9.5" textLength="15.52" lengthAdjust="spacingAndGlyphs" style="fill:#3a3a3a;">204</text>
<text x="786.74" y="420.6" font-size="9.5" textLength="15.52" lengthAdjust="spacingAndGlyphs" style="fill:#3a3a3a;">205</text>
<text x="828.74" y="420.6" font-size="9.5" textLength="15.52" lengthAdjust="spacingAndGlyphs" style="fill:#3a3a3a;">206</text>
<text x="634.39" y="483.69" font-size="10.6" textLength="31.83" lengthAdjust="spacingAndGlyphs" style="fill:#3a3a3a;">Forced</text>
<text x="692.15" y="483.36" font-size="10.6" textLength="134.8" lengthAdjust="spacingAndGlyphs" style="fill:#3a3a3a;">Positioning contact(passive)</text>
<text x="605.97" y="550.5" font-size="15.4" textLength="111.76" lengthAdjust="spacingAndGlyphs" style="fill:#525254;">Full Automatic +</text>
<text x="760.46" y="550.5" font-size="15.4" textLength="76.99" lengthAdjust="spacingAndGlyphs" style="fill:#525254;">Positioning</text>
<text x="536.97" y="567.5" font-size="15.4" textLength="366.26" lengthAdjust="spacingAndGlyphs" style="fill:#525254;">(Breaking the dual circuit of power) Connection Mode</text></g>
<g class="cj"><text x="216.5" y="19.62" font-size="19" textLength="56" lengthAdjust="spacingAndGlyphs" style="fill:#333335;">接线图</text>
<text x="123.9" y="92" font-size="10" textLength="43.5" lengthAdjust="spacingAndGlyphs">常用电源</text>
<text x="196.4" y="92" font-size="10" textLength="43.5" lengthAdjust="spacingAndGlyphs">备用电源</text>
<text x="318.2" y="112.67" font-size="10.7" textLength="57.4" lengthAdjust="spacingAndGlyphs">自动手动方式</text>
<text x="317.4" y="125.67" font-size="10.7" textLength="59.6" lengthAdjust="spacingAndGlyphs">指示（无源）</text>
<text x="399.8" y="112.67" font-size="10.7" textLength="36.4" lengthAdjust="spacingAndGlyphs">机械挂锁</text>
<text x="390.3" y="125.67" font-size="10.7" textLength="56.3" lengthAdjust="spacingAndGlyphs">指示（无源）</text>
<text x="341.6" y="376.28" font-size="11" textLength="83.1" lengthAdjust="spacingAndGlyphs">外接指示（无源）</text>
<text x="106.8" y="495.96" font-size="17" style="fill:#525254;">、</text>
<text x="156.5" y="495.95" font-size="17.5" textLength="33.5" lengthAdjust="spacingAndGlyphs" style="fill:#525254;">短接</text>
<text x="131" y="540.06" font-size="17.8" textLength="199.8" lengthAdjust="spacingAndGlyphs" style="fill:#3c3c3e;">(全自动接线方式)最常用</text>
<text x="575.5" y="633.28" font-size="10.2" textLength="41.9" lengthAdjust="spacingAndGlyphs">常用电源</text>
<text x="645.9" y="632.78" font-size="10.2" textLength="41.9" lengthAdjust="spacingAndGlyphs">备用电源</text>
<text x="776.7" y="655.43" font-size="11.13" textLength="56.5" lengthAdjust="spacingAndGlyphs">自动手动方式</text>
<text x="776.3" y="669.34" font-size="11.13" textLength="58.1" lengthAdjust="spacingAndGlyphs">指示（无源）</text>
<text x="861.3" y="655.43" font-size="11.13" textLength="36.1" lengthAdjust="spacingAndGlyphs">机械挂锁</text>
<text x="852" y="669.34" font-size="11.13" textLength="55.3" lengthAdjust="spacingAndGlyphs">指示（无源）</text>
<text x="803.5" y="927.38" font-size="11.33" textLength="81.1" lengthAdjust="spacingAndGlyphs">外接指示（无源）</text>
<text x="519.2" y="953.5" font-size="10.8" textLength="18.5" lengthAdjust="spacingAndGlyphs">手动</text>
<text x="558.7" y="953.5" font-size="10.8" textLength="17.9" lengthAdjust="spacingAndGlyphs">自动</text>
<text x="589.4" y="947.9" font-size="10.8" textLength="42.8" lengthAdjust="spacingAndGlyphs">（远程）</text>
<text x="765.8" y="1006.57" font-size="10.7" textLength="121" lengthAdjust="spacingAndGlyphs">·SA为自动/手动功能选择开关;</text>
<text x="765.8" y="1021.97" font-size="10.7" textLength="154.9" lengthAdjust="spacingAndGlyphs">·SB1、SB2分别为常用电源、备用电源</text>
<text x="762.45" y="1037.67" font-size="10.7" textLength="108.5" lengthAdjust="spacingAndGlyphs">手动投入按钮（无源触头）;</text>
<text x="765.8" y="1053.37" font-size="10.7" textLength="157" lengthAdjust="spacingAndGlyphs">·401~406、501~506开关端子可选用。</text>
<text x="576.6" y="1224.16" font-size="17" textLength="268.7" lengthAdjust="spacingAndGlyphs" style="fill:#3c3c3e;">（全自动 + 手动（远控）接线方式)</text>
<text x="81.2" y="1018.87" font-size="11.5" textLength="20.1" lengthAdjust="spacingAndGlyphs">手动</text>
<text x="128" y="1018.87" font-size="11.5" textLength="19.3" lengthAdjust="spacingAndGlyphs">自动</text>
<text x="365.2" y="667.66" font-size="12" textLength="56.6" lengthAdjust="spacingAndGlyphs">主电源输入</text>
<text x="359" y="716.46" font-size="12" textLength="68.8" lengthAdjust="spacingAndGlyphs">备用电源输入</text>
<text x="382.2" y="780.16" font-size="12" textLength="22.2" lengthAdjust="spacingAndGlyphs">输出</text>
<text x="356.4" y="859.16" font-size="12" textLength="71.4" lengthAdjust="spacingAndGlyphs">主电源手动投入</text>
<text x="356.4" y="907.16" font-size="12" textLength="71.4" lengthAdjust="spacingAndGlyphs">主电源自动投入</text>
<text x="353.4" y="955.16" font-size="12" textLength="77.6" lengthAdjust="spacingAndGlyphs">备用电源手动投入</text>
<text x="354" y="995.16" font-size="12" textLength="75.4" lengthAdjust="spacingAndGlyphs">备用电源自动投入</text>
<text x="369.8" y="1031.66" font-size="12" textLength="44.6" lengthAdjust="spacingAndGlyphs">0档自动投入</text>
<text x="367.2" y="1063.96" font-size="12" textLength="49.6" lengthAdjust="spacingAndGlyphs">0档紧急投入</text>
<text x="377.8" y="1103.46" font-size="12" textLength="29" lengthAdjust="spacingAndGlyphs">主电源</text>
<text x="382.6" y="1138.47" font-size="13.6" textLength="18.6" lengthAdjust="spacingAndGlyphs">0档</text>
<text x="372.8" y="1169.16" font-size="12" textLength="39" lengthAdjust="spacingAndGlyphs">备用电源</text>
<text x="152" y="1224.14" font-size="17.2" textLength="132.6" lengthAdjust="spacingAndGlyphs" style="fill:#3c3c3e;">(发电机接线方式)</text>
<text x="606.3" y="96.01" font-size="9.5" textLength="37.8" lengthAdjust="spacingAndGlyphs">常用电源</text>
<text x="669.5" y="96.01" font-size="9.5" textLength="37.4" lengthAdjust="spacingAndGlyphs">备用电源</text>
<text x="783.4" y="87.33" font-size="9.3" textLength="51" lengthAdjust="spacingAndGlyphs">自动手动方式</text>
<text x="783.05" y="99.93" font-size="9.3" textLength="52.5" lengthAdjust="spacingAndGlyphs">指示（无源）</text>
<text x="862.4" y="87.33" font-size="9.3" textLength="33.1" lengthAdjust="spacingAndGlyphs">机械挂锁</text>
<text x="853.5" y="99.93" font-size="9.3" textLength="49.8" lengthAdjust="spacingAndGlyphs">指示（无源）</text>
<text x="805.1" y="342.63" font-size="9.3" textLength="75.1" lengthAdjust="spacingAndGlyphs">外接指示（无源）</text>
<text x="672.8" y="469.75" font-size="10.4" textLength="114" lengthAdjust="spacingAndGlyphs">强制置“0”触头（无源）</text>
<text x="672.6" y="483.55" font-size="10.4" textLength="18.2" lengthAdjust="spacingAndGlyphs" style="fill:#3a3a3a;">“0”</text>
<text x="514.35" y="532.66" font-size="17" textLength="414.1" lengthAdjust="spacingAndGlyphs" style="fill:#3c3c3e;">（全自动 + 强制置“0”（双路电源均断开）接线方式）</text>
<text x="730.5" y="551.05" font-size="15.4" textLength="21.3" lengthAdjust="spacingAndGlyphs" style="fill:#525254;">“0”</text></g>
</svg></body></html>
